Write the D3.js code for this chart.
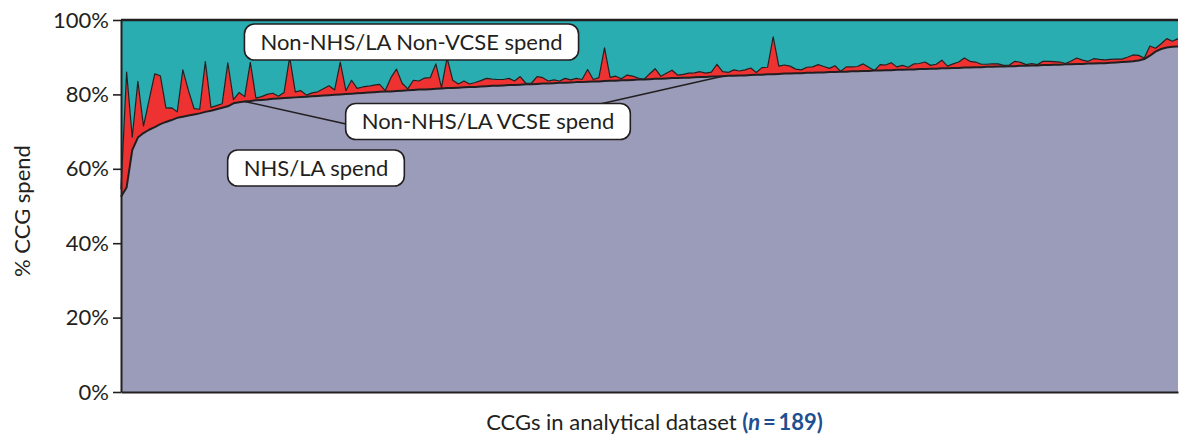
<!DOCTYPE html>
<html>
<head>
<meta charset="utf-8">
<script src="https://cdn.jsdelivr.net/npm/d3@7"></script>
<style>
  html, body { margin: 0; padding: 0; background: #ffffff; }
  svg { display: block; font-family: Lato, "Open Sans", sans-serif; }
</style>
</head>
<body>
<svg id="chart" width="1180" height="435"></svg>
<script>
// Share of CCG spend (%) by CCG, sorted by NHS/LA share (n = 189)
const nhsLa = [
  52.5, 55.0, 65.0, 68.4, 69.6, 70.5, 71.2, 72.0, 72.6, 73.1,
  73.7, 74.0, 74.3, 74.6, 74.9, 75.3, 75.6, 76.0, 76.4, 76.8,
  77.6, 77.9, 78.1, 78.2, 78.4, 78.5, 78.6, 78.8, 78.9, 79.0,
  79.1, 79.2, 79.3, 79.4, 79.5, 79.6, 79.7, 79.8, 79.9, 80.0,
  80.1, 80.2, 80.3, 80.4, 80.5, 80.6, 80.7, 80.8, 80.8, 80.9,
  81.0, 81.1, 81.2, 81.3, 81.3, 81.4, 81.5, 81.6, 81.7, 81.7,
  81.8, 81.9, 82.0, 82.0, 82.1, 82.2, 82.3, 82.3, 82.4, 82.5,
  82.5, 82.6, 82.7, 82.7, 82.8, 82.9, 82.9, 83.0, 83.1, 83.1,
  83.2, 83.3, 83.3, 83.4, 83.5, 83.5, 83.6, 83.7, 83.7, 83.8,
  83.8, 83.9, 84.0, 84.0, 84.1, 84.2, 84.2, 84.3, 84.4, 84.4,
  84.5, 84.5, 84.6, 84.7, 84.7, 84.8, 84.8, 84.9, 85.0, 85.0,
  85.1, 85.1, 85.2, 85.3, 85.3, 85.4, 85.4, 85.5, 85.6, 85.6,
  85.7, 85.7, 85.8, 85.8, 85.9, 85.9, 86.0, 86.0, 86.1, 86.1,
  86.2, 86.2, 86.3, 86.3, 86.4, 86.4, 86.5, 86.5, 86.6, 86.6,
  86.7, 86.7, 86.8, 86.8, 86.9, 86.9, 87.0, 87.0, 87.1, 87.1,
  87.2, 87.2, 87.3, 87.3, 87.4, 87.4, 87.5, 87.5, 87.6, 87.6,
  87.7, 87.7, 87.8, 87.8, 87.9, 87.9, 88.0, 88.0, 88.1, 88.1,
  88.2, 88.2, 88.3, 88.3, 88.4, 88.4, 88.5, 88.6, 88.7, 88.8,
  88.9, 89.1, 89.5, 90.4, 91.5, 92.2, 92.6, 92.8, 92.9
];

const nonNhsVcse = [
   2.0, 31.0,  3.5, 15.1,  1.9,  8.0, 14.3, 13.0,  3.7,  3.3,
   1.6, 12.6,  6.7,  1.6,  1.1, 13.5,  0.9,  1.0,  1.1, 11.7,
   1.0,  2.6,  1.3, 10.4,  0.6,  0.9,  1.4,  1.5,  0.6,  1.5,
  10.9,  1.5,  1.7,  0.4,  0.9,  1.1,  1.8,  2.5,  1.3,  8.7,
   0.9,  3.6,  1.3,  1.6,  1.7,  1.9,  2.0,  0.2,  3.7,  5.9,
   2.0,  0.4,  2.6,  2.3,  3.1,  3.1,  6.7,  0.2,  8.1,  2.1,
   1.0,  1.7,  0.8,  1.2,  1.6,  2.1,  1.8,  1.7,  1.6,  1.8,
   1.1,  2.2,  0.3,  0.3,  2.0,  1.6,  0.7,  0.9,  0.5,  1.2,
   0.7,  1.0,  0.7,  3.3,  0.5,  1.0,  8.9,  0.9,  1.2,  0.4,
   1.4,  1.0,  0.4,  0.0,  1.4,  2.7,  0.7,  1.4,  2.1,  0.8,
   0.9,  1.2,  1.2,  1.4,  1.0,  1.2,  3.3,  1.2,  0.9,  1.6,
   1.2,  1.5,  1.9,  0.6,  1.9,  1.9, 10.1,  2.1,  2.3,  2.0,
   1.1,  0.9,  1.5,  1.6,  2.1,  1.6,  1.0,  1.7,  0.1,  1.3,
   1.2,  1.3,  1.9,  1.0,  0.0,  1.6,  1.4,  2.0,  0.8,  1.2,
   0.6,  1.5,  1.5,  1.9,  0.9,  1.2,  2.2,  0.6,  1.1,  1.6,
   2.6,  1.7,  1.4,  0.8,  0.7,  0.8,  0.7,  0.3,  0.3,  1.3,
   0.9,  0.3,  0.5,  0.2,  1.0,  1.0,  0.8,  0.7,  0.2,  0.9,
   1.6,  1.0,  0.6,  1.3,  1.0,  0.9,  0.9,  0.9,  0.8,  1.2,
   1.7,  1.4,  0.3,  2.6,  0.9,  1.4,  2.4,  1.5,  2.1
];

const yTicks = [0, 20, 40, 60, 80, 100];
const seriesKeys = ["nhsLa", "vcse", "nonVcse"];
const seriesNames = ["NHS/LA spend", "Non-NHS/LA VCSE spend", "Non-NHS/LA Non-VCSE spend"];
const seriesColors = ["#9a9cba", "#ee3131", "#29adb0"];

// Rows for the stack; the non-VCSE share is whatever remains of 100%
const rows = nhsLa.map((v, i) => ({
  idx: i,
  nhsLa: v,
  vcse: nonNhsVcse[i],
  nonVcse: Math.max(0, 100 - v - nonNhsVcse[i])
}));

const svg = d3.select("#chart");
const margin = { left: 121, right: 2, top: 20, bottom: 43 };
const W = 1180, H = 435;
const ink = "#231f20";
const fontSize = "22px";

const x = d3.scaleLinear().domain([0, rows.length - 1]).range([margin.left, W - margin.right]);
const y = d3.scaleLinear().domain([0, 100]).range([H - margin.bottom, margin.top]);

const stack = d3.stack().keys(seriesKeys);
const layers = stack(rows);

const area = d3.area()
  .x(d => x(d.data.idx))
  .y0(d => y(d[0]))
  .y1(d => y(d[1]));

const topLine = d3.line()
  .x(d => x(d.data.idx))
  .y(d => y(d[1]));

// Filled layers
svg.append("g").selectAll("path.layer")
  .data(layers)
  .join("path")
  .attr("class", "layer")
  .attr("fill", (d, i) => seriesColors[i])
  .attr("d", area);

// Outlines along the top of each layer
svg.append("g").selectAll("path.edge")
  .data(layers)
  .join("path")
  .attr("class", "edge")
  .attr("fill", "none")
  .attr("stroke", ink)
  .attr("stroke-linejoin", "round")
  .attr("stroke-width", (d, i) => i === 0 ? 2 : (i === 1 ? 1.2 : 2.4))
  .attr("d", topLine);

// Y axis
const yAxis = d3.axisLeft(y)
  .tickValues(yTicks)
  .tickFormat(d => d + "%")
  .tickSize(8)
  .tickPadding(4)
  .tickSizeOuter(0);

const gy = svg.append("g")
  .attr("transform", `translate(${margin.left},0)`)
  .call(yAxis);
gy.select(".domain").attr("stroke", ink).attr("stroke-width", 2);
gy.selectAll(".tick line").attr("stroke", ink).attr("stroke-width", 1.6);
gy.selectAll(".tick text")
  .attr("fill", ink)
  .style("font-size", fontSize)
  .style("font-family", "Lato, sans-serif");

// X axis (no tick labels)
const xAxis = d3.axisBottom(x).tickValues([]).tickSizeOuter(0);
const gx = svg.append("g")
  .attr("transform", `translate(0,${y(0)})`)
  .call(xAxis);
gx.select(".domain").attr("stroke", ink).attr("stroke-width", 2);

// Axis titles
svg.append("text")
  .attr("transform", `translate(30,${(y(0) + y(100)) / 2 + 5}) rotate(-90)`)
  .attr("text-anchor", "middle")
  .attr("fill", ink)
  .style("font-size", fontSize)
  .text("% CCG spend");

const xt = svg.append("text")
  .attr("x", (x.range()[0] + x.range()[1]) / 2 + 5)
  .attr("y", 430)
  .attr("text-anchor", "middle")
  .attr("fill", ink)
  .style("font-size", fontSize);
xt.append("tspan").text("CCGs in analytical dataset ");
xt.append("tspan").attr("fill", "#1d4f91").attr("font-weight", "bold").text("(");
xt.append("tspan").attr("fill", "#1d4f91").attr("font-weight", "bold").attr("font-style", "italic").text("n");
xt.append("tspan").attr("fill", "#1d4f91").attr("font-weight", "bold").text("\u2009=\u2009189)");

// Leader lines from the VCSE callout to the VCSE band
const leaderIdx = [22, 107];
svg.append("g").selectAll("line")
  .data(leaderIdx)
  .join("line")
  .attr("x1", (d, i) => i === 0 ? 346 : 600)
  .attr("y1", (d, i) => i === 0 ? 124 : 104)
  .attr("x2", d => x(d))
  .attr("y2", d => y(nhsLa[d]))
  .attr("stroke", ink)
  .attr("stroke-width", 1.6);

// Callout labels
const callouts = [
  { text: seriesNames[2], cx: 411.5, cy: 42 },
  { text: seriesNames[1], cx: 488, cy: 121.5 },
  { text: seriesNames[0], cx: 316, cy: 168 }
];

const cg = svg.append("g").selectAll("g")
  .data(callouts)
  .join("g")
  .attr("transform", d => `translate(${d.cx},${d.cy})`);

cg.append("rect").attr("fill", "#ffffff").attr("stroke", ink).attr("stroke-width", 1.6);
cg.append("text")
  .attr("text-anchor", "middle")
  .attr("dy", "0.35em")
  .attr("fill", ink)
  .style("font-size", fontSize)
  .text(d => d.text);

cg.each(function () {
  const g = d3.select(this);
  const w = g.select("text").node().getComputedTextLength();
  const padX = 16, h = 36;
  g.select("rect")
    .attr("x", -w / 2 - padX)
    .attr("y", -h / 2)
    .attr("width", w + 2 * padX)
    .attr("height", h)
    .attr("rx", 10)
    .attr("ry", 10);
});
</script>
</body>
</html>
